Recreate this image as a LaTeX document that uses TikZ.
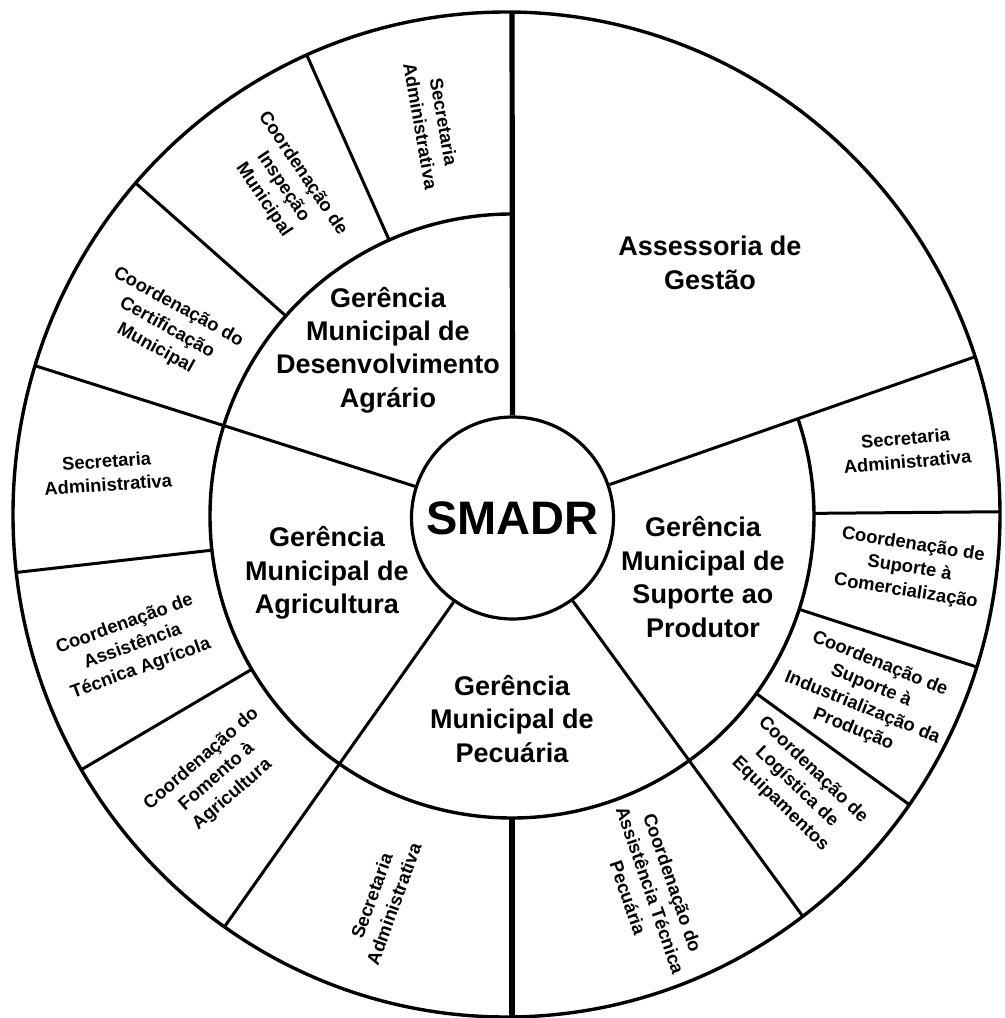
\documentclass[tikz,border=0pt]{standalone}
\usepackage{fontspec}
\setmainfont{Liberation Sans}

\tikzset{
	ring/.style = {line width = 1.7pt},
	spoke/.style = {line width = 1.5pt},
	axisline/.style = {line width = 2.6pt},
	hub/.style = {circle, draw, line width = 1.6pt, minimum size = 101pt, inner sep = 0pt,
		font = \bfseries\fontsize{23.5}{28}\selectfont},
	gerencia/.style = {align = center, inner sep = 0pt, font = \bfseries\fontsize{13.5}{16.7}\selectfont},
	setor/.style = {align = center, inner sep = 0pt, font = \bfseries\fontsize{9.2}{11.8}\selectfont},
}

\begin{document}
\begin{tikzpicture}[x = 0.5pt, y = 0.5pt]
	\useasboundingbox (-512, -502) rectangle (493, 516);

	\node[hub] (smadr) at (0.5, -2) {SMADR};

	% spokes, cut at the outer ring
	\begin{scope}
		\clip (-5.5, 1.5) ellipse [x radius = 493.5, y radius = 502.5];
		\draw[axisline] (smadr.90) -- (90:530);
		\draw[spoke] (smadr.19) -- (19:530);
		\draw[spoke] (smadr.162.5) -- (162.5:530);
		\draw[spoke] (smadr.235) -- (235:530);
		\draw[spoke] (smadr.306) -- (306:530);
		\draw[axisline] (270:302) -- (270:530);

		\draw[spoke] (114:302) -- (114:530);
		\draw[spoke] (138.5:302) -- (138.5:530);
		\draw[spoke] (186.5:302) -- (186.5:530);
		\draw[spoke] (210.5:302) -- (210.5:530);
		\draw[spoke] (324:302) -- (324:530);
		\draw[spoke] (342:302) -- (342:530);
		\draw[spoke] (0.5:302) -- (0.5:530);
	\end{scope}

	\draw[ring] (-5.5, 1.5) ellipse [x radius = 493.5, y radius = 502.5];
	\draw[ring] (90:302) arc [start angle = 90, end angle = 379, radius = 302];

	% inner ring
	\node[gerencia] (assessoria) at (198, 253) {Assessoria de\\Gestão};
	\node[gerencia] (agrario) at (-124, 166) {Gerência\\Municipal de\\Desenvolvimento\\Agrário};
	\node[gerencia] (agricultura) at (-185, -57) {Gerência\\Municipal de\\Agricultura};
	\node[gerencia] (pecuaria) at (0, -203) {Gerência\\Municipal de\\Pecuária};
	\node[gerencia] (suporte) at (191, -61) {Gerência\\Municipal de\\Suporte ao\\Produtor};

	% outer ring
	\node[setor, rotate = -80] (sec-agrario) at (101.5:400) {Secretaria\\Administrativa};
	\node[setor, rotate = -56] (inspecao) at (124.8:401) {Coordenação de\\Inspeção\\Municipal};
	\node[setor, rotate = -29] (certificacao) at (151.4:393) {Coordenação do\\Certificação\\Municipal};
	\node[setor, rotate = 4] (sec-agricultura) at (173.9:407) {Secretaria\\Administrativa};
	\node[setor, rotate = 20] (assist-agricola) at (199:401) {Coordenação de\\Assistência\\Técnica Agrícola};
	\node[setor, rotate = 41] (fomento) at (221.5:394) {Coordenação do\\Fomento à\\Agricultura};
	\node[setor, rotate = 70] (sec-pecuaria) at (251.4:405) {Secretaria\\Administrativa};
	\node[setor, rotate = -71] (assist-pecuaria) at (290.3:399) {Coordenação do\\Assistência Técnica\\Pecuária};
	\node[setor, rotate = -44] (logistica) at (316.4:393) {Coordenação de\\Logística de\\Equipamentos};
	\node[setor, rotate = -22] (industria) at (333:398) {Coordenação de\\Suporte à\\Industrialização da\\Produção};
	\node[setor, rotate = -9] (comercio) at (352.5:401) {Coordenação de\\Suporte à\\Comercialização};
	\node[setor, rotate = 5] (sec-suporte) at (9.5:400) {Secretaria\\Administrativa};
\end{tikzpicture}
\end{document}
